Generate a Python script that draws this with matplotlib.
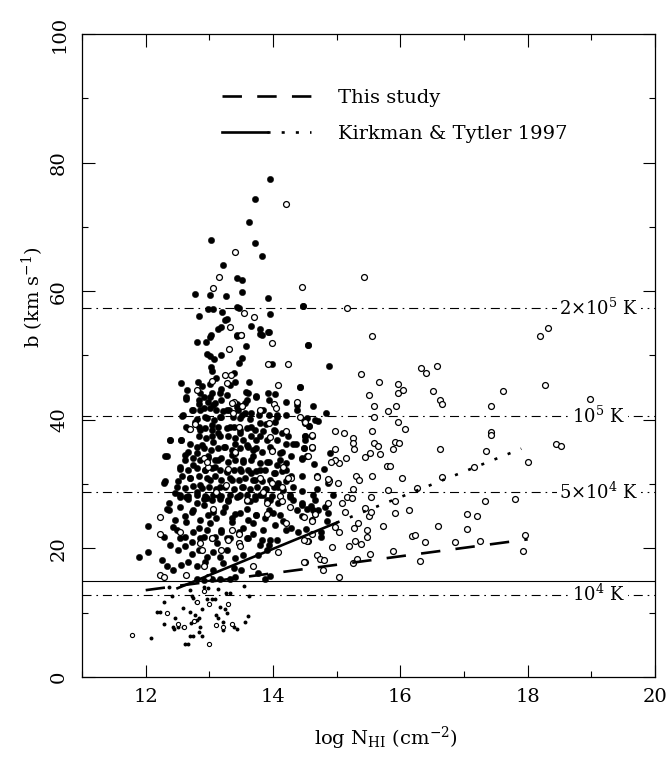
import matplotlib
matplotlib.use("Agg")
import matplotlib.pyplot as plt
import numpy as np
from matplotlib.legend_handler import HandlerTuple

plt.rcParams['font.family'] = ['DejaVu Serif']
plt.rcParams['mathtext.fontset'] = 'dejavuserif'
plt.rcParams['lines.scale_dashes'] = False

# absorbers, (log N_HI, b)
filled_pts = [
    (13.95, 77.4), (13.71, 74.3), (13.63, 70.7), (13.03, 67.9), (13.71, 67.5), (13.83, 65.5),
    (13.21, 64.1), (13.43, 62.0), (13.51, 61.7), (13.52, 59.9), (12.78, 59.6), (13.01, 59.4),
    (13.26, 59.2), (13.92, 59.0), (14.47, 57.7), (12.98, 57.2), (13.06, 57.3), (13.43, 57.6),
    (13.47, 57.4), (12.84, 56.1), (13.20, 56.7), (13.25, 55.5), (13.28, 55.6), (13.96, 56.5),
    (13.65, 54.6), (13.79, 54.1), (13.93, 53.7), (13.19, 54.5), (13.14, 54.1), (13.02, 53.2),
    (13.44, 53.2), (13.82, 53.2),
    (13.01, 52.9), (12.80, 52.1), (12.95, 52.1), (13.44, 53.0), (13.57, 51.5), (13.80, 53.3),
    (13.92, 53.7), (14.55, 51.7), (12.97, 50.2), (13.01, 49.9), (13.19, 50.0), (13.46, 48.9),
    (13.52, 49.6), (13.08, 49.4), (13.03, 48.2), (13.04, 47.6), (13.38, 47.3), (13.40, 45.8),
    (12.55, 45.7), (12.82, 45.8), (12.65, 44.7), (12.89, 45.2), (13.01, 45.5), (13.10, 46.5),
    (13.33, 45.4), (13.19, 44.8), (13.63, 45.8), (13.98, 48.6), (14.43, 45.1), (13.92, 44.1),
    (13.58, 44.3), (13.73, 43.7), (12.63, 43.3), (12.85, 44.1), (12.91, 43.6), (13.04, 44.1),
    (13.27, 43.9), (12.84, 42.5), (12.98, 42.8), (13.09, 42.6), (13.18, 43.1), (13.43, 42.5),
    (13.59, 43.1), (13.94, 43.1), (14.20, 42.8), (14.37, 42.3), (12.74, 41.5), (12.85, 41.5),
    (13.01, 41.8), (13.11, 41.5), (13.22, 41.3), (13.31, 41.5), (13.45, 41.5), (13.56, 41.0),
    (13.66, 41.1), (13.78, 40.7), (13.93, 40.7), (14.06, 40.5), (14.20, 40.7), (12.57, 40.6),
    (12.81, 40.1), (12.93, 40.4), (13.07, 40.0), (13.17, 40.4), (13.37, 40.5), (13.48, 40.2),
    (13.64, 40.1), (13.80, 39.5), (13.89, 39.4), (14.03, 39.6), (14.53, 40.2), (14.57, 39.0),
    (12.38, 36.9), (12.55, 36.9), (12.33, 34.3), (12.29, 30.2), (12.64, 38.9), (12.83, 38.9),
    (12.93, 38.7), (13.04, 38.4), (13.14, 38.9), (13.27, 38.7), (13.38, 38.9), (13.48, 38.4),
    (13.59, 38.7), (13.72, 38.4), (13.85, 38.2), (14.01, 38.4), (14.14, 37.9), (14.24, 37.5),
    (14.50, 37.5), (12.84, 37.4), (12.95, 37.1), (13.04, 37.4), (13.17, 37.4), (13.30, 37.4),
    (13.40, 37.1), (13.53, 36.9), (13.65, 37.4), (13.74, 36.9), (13.90, 36.9), (14.06, 36.9),
    (14.20, 36.3), (14.36, 36.3), (14.49, 35.6), (14.62, 35.6), (12.67, 35.0), (12.80, 35.8),
    (12.91, 35.6), (13.02, 35.3), (13.13, 35.6), (13.23, 35.8), (13.35, 35.3), (13.48, 35.6),
    (13.61, 35.8), (13.69, 35.3), (13.82, 35.0), (13.98, 35.3), (14.11, 34.8), (14.29, 34.3),
    (14.45, 34.0), (12.62, 33.8), (12.75, 34.0), (12.85, 33.8), (12.98, 34.0), (13.09, 33.7),
    (13.19, 34.0), (13.30, 33.5), (13.40, 33.8), (13.53, 33.5), (13.66, 33.7), (13.80, 33.2),
    (13.93, 33.5), (14.06, 33.0), (14.21, 33.2), (12.54, 32.7), (12.67, 32.2), (12.80, 32.5),
    (12.93, 32.2), (13.04, 32.5), (13.17, 32.2), (13.27, 32.0), (13.38, 32.2), (13.49, 32.0),
    (13.61, 32.2), (13.74, 32.0), (13.87, 32.2), (14.01, 31.7), (14.14, 32.0), (14.29, 31.2),
    (14.45, 31.2), (12.57, 31.2), (12.70, 30.9), (12.83, 31.2), (12.96, 30.9), (13.09, 31.2),
    (13.19, 30.6), (13.32, 30.9), (13.46, 30.6), (13.56, 30.9), (13.69, 30.6), (13.82, 30.4),
    (13.95, 30.6), (14.08, 30.1), (14.21, 30.4), (12.49, 29.6), (12.62, 29.4), (12.75, 29.7),
    (12.88, 29.4), (13.00, 29.6), (13.11, 29.2), (13.25, 29.6), (13.38, 29.2), (13.51, 29.5),
    (13.64, 29.2), (13.75, 29.6), (13.89, 29.2), (14.02, 29.5), (14.16, 29.1), (14.32, 29.6),
    (12.54, 28.3), (12.67, 28.1), (12.80, 28.3), (12.93, 28.1), (13.06, 28.3), (13.19, 28.1),
    (13.32, 28.3), (13.46, 28.1), (13.59, 28.3), (13.72, 28.1), (13.85, 28.3), (13.98, 28.1),
    (14.27, 28.3), (14.63, 28.3),
    (12.03, 23.5), (11.90, 18.7), (12.03, 19.4), (12.36, 27.0), (12.37, 25.9), (12.54, 28.0),
    (12.67, 27.6), (12.80, 27.0), (12.91, 27.7), (13.04, 27.5), (13.17, 27.7), (13.30, 27.3),
    (13.43, 28.0), (13.59, 27.3), (13.72, 27.6), (13.90, 27.5), (14.08, 27.0), (14.32, 27.5),
    (14.45, 26.7), (14.63, 26.0), (12.46, 24.4), (12.62, 25.0), (12.72, 25.7), (12.85, 24.4),
    (12.98, 25.2), (13.11, 24.7), (13.22, 25.7), (13.35, 24.7), (13.48, 25.5), (13.61, 24.4),
    (13.74, 25.2), (13.87, 24.7), (14.00, 25.5), (14.16, 24.2), (14.29, 23.1), (14.40, 22.6),
    (12.28, 21.8), (12.38, 20.5), (12.49, 22.9), (12.62, 21.8), (12.75, 22.6), (12.85, 21.6),
    (12.96, 22.9), (13.09, 21.8), (13.19, 22.6), (13.33, 21.6), (13.46, 22.6), (13.59, 21.6),
    (13.69, 22.3), (13.82, 21.3), (13.93, 20.5), (14.06, 21.3), (12.51, 19.7), (12.62, 20.3),
    (12.72, 19.2), (12.83, 19.7), (12.96, 18.7), (13.06, 19.5), (13.17, 18.7), (13.27, 19.7),
    (13.40, 18.5), (13.53, 19.0), (13.77, 19.0), (13.90, 19.7), (12.25, 18.2), (12.33, 17.2),
    (12.43, 16.6), (12.56, 17.4), (12.67, 17.9), (12.80, 17.2), (12.93, 17.9), (13.06, 16.6),
    (13.22, 17.7), (13.38, 16.9), (13.49, 16.6), (13.87, 15.3), (13.95, 15.7), (13.77, 16.1),
    (12.80, 15.3), (12.91, 15.1), (13.04, 15.3), (13.17, 15.3), (13.33, 15.3), (13.40, 15.5),
    (14.47, 57.7), (14.55, 51.7), (14.88, 48.3), (14.43, 45.1), (14.63, 42.2), (14.83, 41.0),
    (14.48, 40.0), (14.66, 39.9), (14.71, 39.8), (14.56, 39.1), (14.51, 37.5), (14.62, 35.7),
    (14.48, 35.6), (14.45, 33.9), (14.64, 33.1), (14.90, 34.9), (14.80, 32.4), (14.88, 30.6),
    (14.87, 30.2), (14.45, 28.9), (14.69, 29.2), (14.95, 28.3), (14.66, 27.5), (14.45, 27.0),
    (14.53, 26.2), (14.60, 26.6), (14.71, 26.0), (14.81, 26.5), (14.66, 25.3), (14.86, 25.5),
    (14.45, 25.0), (14.85, 24.3), (14.52, 23.0), (14.76, 22.6), (14.76, 21.7),
]

# second pass over the crowded core
core_filled_pts = [
    (12.64, 43.6), (12.83, 43.1), (13.01, 43.6), (13.17, 44.1), (13.60, 44.2), (13.74, 43.6),
    (14.03, 44.0), (12.72, 41.5), (12.91, 41.8), (13.06, 42.3), (13.27, 41.5), (13.43, 42.0),
    (13.56, 42.6), (13.85, 41.5), (14.37, 41.5), (12.59, 40.7), (12.96, 40.2), (13.19, 40.5),
    (13.51, 40.7), (14.06, 40.7), (12.38, 36.9), (12.56, 36.9), (12.77, 39.7), (12.85, 38.4),
    (13.04, 39.2), (13.14, 37.9), (13.32, 38.9), (13.48, 37.9), (13.66, 38.9), (13.80, 37.4),
    (14.03, 38.2), (14.32, 36.3), (14.50, 36.9), (12.70, 36.3), (12.88, 36.1), (13.06, 36.6),
    (13.25, 35.8), (13.40, 36.3), (13.59, 36.1), (13.74, 35.6), (13.95, 35.8), (14.14, 35.0),
    (12.30, 34.3), (12.62, 34.5), (12.80, 34.8), (12.98, 34.3), (13.14, 33.7), (13.35, 34.5),
    (13.53, 33.7), (13.69, 34.3), (13.90, 33.5), (14.11, 33.7), (12.54, 32.4), (12.75, 33.0),
    (12.93, 32.2), (13.09, 32.7), (13.27, 31.9), (13.48, 32.4), (13.66, 31.7), (13.80, 32.2),
    (14.03, 31.7), (14.21, 32.2), (12.30, 30.4), (12.51, 30.4), (12.70, 30.9), (12.85, 29.9),
    (13.01, 30.6), (13.17, 29.6), (13.35, 30.6), (13.53, 29.6), (13.72, 30.6), (13.87, 29.3),
    (14.08, 29.6), (12.46, 28.6), (12.64, 28.0), (12.80, 28.8), (12.96, 27.8), (13.14, 28.3),
    (13.30, 27.5), (13.48, 28.3), (13.64, 27.3), (13.80, 28.3), (13.95, 27.5), (14.27, 28.0),
    (12.33, 26.2), (12.54, 26.5), (12.75, 26.0), (12.91, 26.7), (13.06, 25.7), (13.25, 26.5),
    (13.40, 25.4), (13.59, 26.2), (13.74, 25.2), (13.93, 26.0), (14.11, 25.2), (14.37, 26.0),
    (12.43, 23.4), (12.64, 24.1), (12.83, 23.1), (13.01, 23.9), (13.19, 22.9), (13.35, 24.1),
    (13.53, 23.1), (13.69, 23.9), (13.85, 22.9), (14.03, 23.6), (14.21, 22.9), (12.54, 21.6),
    (12.72, 21.0), (12.91, 21.8), (13.12, 20.8), (13.27, 21.6), (13.46, 20.8), (13.61, 21.6),
    (13.80, 20.5), (13.95, 21.3),
]

open_pts = [
    (14.20, 73.6), (13.41, 66.1), (13.15, 62.2), (13.05, 60.5), (14.45, 60.7), (13.54, 56.6),
    (13.70, 56.0), (13.33, 54.5), (13.50, 53.2),
    (13.49, 53.2), (13.99, 51.9), (13.31, 51.0), (13.92, 48.6), (14.23, 48.6), (13.25, 47.0),
    (13.34, 47.0), (13.04, 46.0), (13.28, 45.7), (14.08, 45.4), (12.80, 44.7), (13.38, 42.8),
    (14.02, 42.5), (14.04, 41.8), (14.37, 42.8), (13.51, 42.1), (13.80, 41.4), (13.37, 41.1),
    (14.42, 40.4), (14.50, 39.5), (12.68, 38.5), (12.78, 39.3), (13.47, 38.9), (13.95, 37.3),
    (14.21, 38.2), (14.61, 37.5), (14.61, 35.7), (13.40, 34.9), (13.99, 35.2), (12.91, 34.0),
    (14.54, 34.3), (12.98, 32.6), (14.16, 32.7), (14.69, 31.2), (13.26, 29.9), (13.80, 30.9),
    (13.98, 30.1), (14.14, 29.6), (14.28, 30.9), (13.11, 28.8), (13.85, 28.7), (14.11, 28.2),
    (12.22, 24.9), (12.22, 22.2), (12.54, 22.6), (12.85, 20.8), (12.88, 19.7), (13.04, 21.6),
    (13.19, 19.7), (13.30, 21.3), (13.46, 20.8), (13.46, 22.3), (13.69, 17.2), (14.08, 19.5),
    (14.50, 17.9), (14.61, 24.4), (14.55, 21.2), (12.22, 15.9), (12.28, 15.6), (12.64, 15.9),
    (12.98, 15.6), (12.91, 17.2), (13.90, 27.0), (14.14, 27.3), (14.27, 26.5), (14.21, 23.9),
    (13.35, 42.6), (13.51, 42.1), (13.80, 41.5), (13.93, 39.5), (12.70, 38.5), (13.40, 35.0),
    (12.96, 33.5), (13.30, 32.4), (14.24, 30.9), (13.59, 27.5), (13.06, 26.2), (13.90, 25.4),
    (13.35, 22.9), (13.04, 21.6), (13.48, 20.3), (14.48, 24.9),
    (15.43, 62.2), (15.17, 57.4), (15.55, 53.0), (18.20, 53.0), (18.32, 54.3),
    (15.38, 47.1), (15.66, 45.8), (15.50, 43.9), (15.96, 45.6), (15.96, 44.2), (16.04, 44.6),
    (16.32, 48.0), (16.40, 47.2), (16.57, 48.4), (16.51, 44.5), (16.63, 43.1), (16.65, 42.4),
    (17.61, 44.5), (17.42, 42.1), (18.28, 45.4), (15.59, 42.2), (15.93, 42.2), (15.81, 41.3),
    (15.58, 40.4), (15.96, 39.7), (16.08, 38.6), (15.55, 38.2), (14.97, 38.3), (15.11, 38.0),
    (15.25, 37.2), (15.25, 36.4), (15.27, 35.5), (15.59, 36.4), (15.65, 35.9), (15.91, 36.5),
    (15.98, 36.4), (15.88, 35.5), (15.44, 34.2), (15.52, 34.8), (15.68, 34.6), (16.62, 35.4),
    (17.42, 38.1), (17.42, 37.7), (17.34, 35.2), (18.44, 36.2), (18.00, 33.5), (14.97, 35.5),
    (15.14, 34.1), (15.04, 33.3), (14.98, 33.7), (14.91, 33.4), (15.79, 32.8), (15.84, 32.8),
    (15.31, 31.3), (15.35, 30.7), (15.55, 31.2), (16.02, 31.0), (16.65, 31.1), (17.15, 32.6),
    (15.26, 29.3), (15.80, 29.1), (16.26, 29.4), (17.33, 27.4), (17.80, 27.6), (15.02, 30.2),
    (14.88, 30.4), (14.87, 30.8), (14.69, 31.1), (15.08, 27.0), (15.17, 28.0), (15.24, 27.9),
    (15.54, 28.0), (15.44, 26.3), (15.51, 25.0), (15.54, 25.7), (15.33, 24.0), (15.28, 23.2),
    (15.13, 25.7), (14.87, 27.1), (14.66, 25.3), (14.61, 24.3), (15.91, 25.5), (15.91, 27.4),
    (16.14, 26.0), (15.72, 23.5), (15.48, 22.8), (15.48, 21.7), (15.38, 20.7), (15.29, 21.1),
    (15.19, 20.4), (14.92, 20.2), (15.03, 22.5), (14.98, 23.3), (16.19, 21.9), (16.23, 22.1),
    (16.38, 21.0), (16.59, 23.5), (17.04, 25.4), (17.21, 25.0), (17.05, 23.0), (16.86, 21.0),
    (17.25, 21.2), (17.96, 22.1), (17.92, 19.6), (15.88, 19.6), (15.52, 19.2), (15.32, 18.3),
    (15.25, 17.7), (16.31, 18.0), (15.04, 15.6), (14.78, 16.6), (14.49, 17.9), (14.69, 18.9),
    (14.74, 18.3), (14.80, 18.2), (14.54, 21.2), (14.48, 21.3), (14.55, 34.3), (14.61, 37.6),
    (14.50, 39.6), (14.61, 22.2), (18.98, 43.3), (18.53, 35.9),
]

small_filled_pts = [
    (12.37, 14.0), (12.42, 12.6), (12.70, 13.6), (12.91, 14.0), (12.98, 13.8), (13.14, 13.7),
    (13.26, 13.1), (13.32, 13.1), (13.54, 14.2), (13.63, 12.6), (12.72, 12.6), (12.75, 12.3),
    (12.79, 11.7), (12.97, 12.2), (13.04, 12.2), (13.09, 12.2), (13.17, 10.9), (13.25, 10.5),
    (13.27, 10.0), (12.28, 11.6), (12.17, 10.1), (12.22, 10.1), (12.59, 10.7), (12.28, 8.3),
    (12.46, 9.1), (12.70, 10.1), (12.77, 9.6), (12.84, 9.1), (12.71, 8.4), (12.85, 7.8),
    (12.43, 7.8), (12.51, 7.7), (12.59, 7.7), (12.08, 6.1), (12.45, 7.4), (12.69, 6.3),
    (12.75, 6.3), (12.83, 7.0), (12.88, 6.4), (12.62, 5.2), (12.67, 5.2), (13.11, 9.6),
    (13.14, 9.1), (13.21, 8.6), (13.22, 7.3), (13.38, 7.8), (13.44, 7.4), (13.56, 8.6),
    (13.60, 9.5), (12.88, 10.5), (12.81, 8.9),
]

small_open_pts = [
    (11.78, 6.5), (12.34, 9.9), (12.50, 8.2), (12.60, 7.8), (12.76, 8.7), (12.99, 11.3),
    (13.29, 11.3), (13.10, 8.1), (13.22, 7.8), (12.99, 5.1), (12.91, 13.4), (12.80, 11.6),
    (13.35, 8.3),
]

# thermal widths
temp_b = [57.4, 40.6, 28.7, 12.8]
temp_labels = [r'2$\times$10$^5$ K', r'10$^5$ K', r'5$\times$10$^4$ K', r'10$^4$ K']
b_cut = 15.0

# lower envelope fits
this_study_x = [12.0, 18.0]
this_study_b = [13.5, 21.4]
kt_solid_x = [12.5, 15.0]
kt_solid_b = [13.8, 24.0]
kt_dot_x = [15.0, 17.9]
kt_dot_b = [24.0, 35.5]

fig = plt.figure(figsize=(6.68, 7.58), dpi=100)
ax = fig.add_axes([0.1228, 0.1069, 0.8577, 0.8483])

dashdot = (0, (6.5, 3.5, 1.2, 3.5))
for b in temp_b:
    ax.axhline(b, color='black', lw=0.8, linestyle=dashdot, zorder=1)
ax.axhline(b_cut, color='black', lw=0.8, zorder=1)

for b, lab in zip(temp_b, temp_labels):
    ax.text(19.12, b, lab, ha='center', va='center', fontsize=13,
            bbox=dict(facecolor='white', edgecolor='none', pad=1.5), zorder=2)

f = np.array(filled_pts + core_filled_pts)
o = np.array(open_pts)
sf = np.array(small_filled_pts)
so = np.array(small_open_pts)
ax.scatter(f[:, 0], f[:, 1], s=21, c='black', edgecolors='black', linewidths=0.3, zorder=3)
ax.scatter(o[:, 0], o[:, 1], s=18, facecolors='white', edgecolors='black', linewidths=0.9, zorder=3)
ax.scatter(sf[:, 0], sf[:, 1], s=8, c='black', linewidths=0, zorder=3)
ax.scatter(so[:, 0], so[:, 1], s=9, facecolors='white', edgecolors='black', linewidths=0.8, zorder=3)

h1, = ax.plot(this_study_x, this_study_b, color='black', lw=1.9, linestyle=(0, (14, 11)), zorder=4)
h2, = ax.plot(kt_solid_x, kt_solid_b, color='black', lw=1.9, zorder=4)
h3, = ax.plot(kt_dot_x, kt_dot_b, color='black', lw=1.9, linestyle=(0, (2.2, 8)), zorder=4)

ax.legend([h1, (h2, h3)], ['This study', 'Kirkman & Tytler 1997'],
          handler_map={tuple: HandlerTuple(ndivide=None, pad=0)},
          loc='upper left', bbox_to_anchor=(0.244, 0.914), frameon=False, fontsize=14,
          handlelength=4.6, handletextpad=1.4, labelspacing=0.92, borderpad=0, borderaxespad=0)

ax.set_xlim(11, 20)
ax.set_ylim(0, 100)
ax.set_xticks([12, 14, 16, 18, 20])
ax.set_xticks(np.arange(11, 21, 1), minor=True)
ax.set_yticks([0, 20, 40, 60, 80, 100])
ax.set_yticks(np.arange(0, 101, 10), minor=True)
ax.tick_params(which='both', direction='in', top=True, right=True, labelsize=14, width=0.8)
ax.tick_params(which='major', length=9)
ax.tick_params(which='minor', length=4.5)
ax.tick_params(axis='y', labelrotation=90, pad=10)
ax.tick_params(axis='x', pad=8)
for lab in ax.get_yticklabels():
    lab.set_verticalalignment('center')
for sp in ax.spines.values():
    sp.set_linewidth(0.9)

ax.set_xlabel(r'log N$_{\mathrm{HI}}$ (cm$^{-2}$)', fontsize=14)
ax.set_ylabel(r'b (km s$^{-1}$)', fontsize=14)
ax.xaxis.set_label_coords(0.53, -0.075)
ax.yaxis.set_label_coords(-0.085, 0.59)
ax.yaxis.label.set_verticalalignment('center')

fig.savefig('out.png', dpi=100)
